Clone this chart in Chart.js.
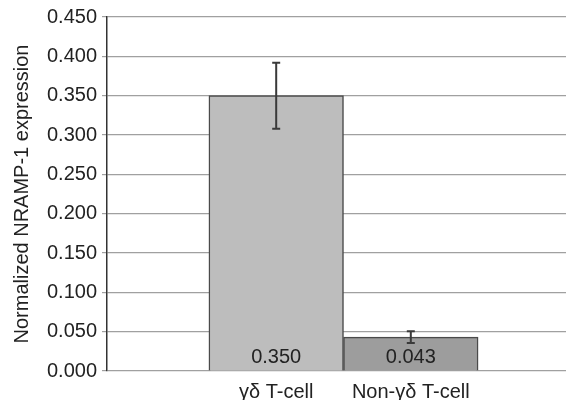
<!DOCTYPE html>
<html>
<head>
<meta charset="utf-8">
<script src="https://cdn.jsdelivr.net/npm/chart.js@4/dist/chart.umd.min.js"></script>
<style>
html,body{margin:0;padding:0;background:#fff;}
canvas{display:block;}
</style>
</head>
<body>
<canvas id="c" width="576" height="400"></canvas>
<script>
const categories = ['γδ T-cell', 'Non-γδ T-cell'];
const values = [0.350, 0.043];
const errors = [0.042, 0.0075];
const valueLabels = ['0.350', '0.043'];
const barColors = ['#bdbdbd', '#9d9d9d'];
const yTitle = 'Normalized NRAMP-1 expression';

const FONT = "'Liberation Sans', Arial, sans-serif";

const errorBars = {
  id: 'errorBars',
  afterDatasetsDraw(chart) {
    const ctx = chart.ctx;
    const ys = chart.scales.y;
    const meta = chart.getDatasetMeta(0);
    ctx.save();
    ctx.strokeStyle = '#3a3a3a';
    ctx.lineWidth = 2;
    meta.data.forEach((el, i) => {
      const x = el.x;
      const t = ys.getPixelForValue(values[i] + errors[i]);
      const b = ys.getPixelForValue(values[i] - errors[i]);
      ctx.beginPath();
      ctx.moveTo(x, t); ctx.lineTo(x, b);
      ctx.moveTo(x - 4, t); ctx.lineTo(x + 4, t);
      ctx.moveTo(x - 4, b); ctx.lineTo(x + 4, b);
      ctx.stroke();
    });
    ctx.fillStyle = '#222';
    ctx.font = '20px ' + FONT;
    ctx.textAlign = 'center';
    ctx.textBaseline = 'middle';
    const y0 = ys.getPixelForValue(0);
    meta.data.forEach((el, i) => {
      ctx.fillText(valueLabels[i], el.x, y0 - 14);
    });
    ctx.restore();
  }
};

new Chart(document.getElementById('c'), {
  type: 'bar',
  data: {
    datasets: [{
      data: values.map((v, i) => ({ x: i + 1, y: v })),
      backgroundColor: barColors,
      borderColor: '#4a4a4a',
      borderWidth: 1.5,
      categoryPercentage: 1,
      barPercentage: 1
    }]
  },
  options: {
    responsive: false,
    animation: false,
    events: [],
    layout: { padding: { top: 8, right: 10, left: 0, bottom: 0 } },
    plugins: { legend: { display: false }, tooltip: { enabled: false } },
    scales: {
      x: {
        type: 'linear',
        offset: false,
        min: -0.257,
        max: 3.153,
        grid: { display: false },
        border: { display: false },
        afterBuildTicks(scale) { scale.ticks = categories.map((c, i) => ({ value: i + 1 })); },
        afterFit(scale) { scale.height = 29; },
        ticks: {
          autoSkip: false,
          maxRotation: 0,
          padding: 1,
          color: '#222',
          font: { family: FONT, size: 20 },
          callback: (v) => categories[v - 1] || ''
        }
      },
      y: {
        min: 0,
        max: 0.45,
        afterFit(scale) { scale.width = 107; },
        ticks: {
          stepSize: 0.05,
          padding: 5,
          color: '#222',
          font: { family: FONT, size: 20 },
          callback: (v) => Number(v).toFixed(3)
        },
        grid: { color: '#a0a0a0', lineWidth: 1.2, tickLength: 5 },
        border: { color: '#333', width: 1.5 },
        title: {
          display: true,
          text: yTitle,
          color: '#222',
          font: { family: FONT, size: 20 },
          padding: { top: 10, bottom: 0 }
        }
      }
    }
  },
  plugins: [errorBars]
});
</script>
</body>
</html>
